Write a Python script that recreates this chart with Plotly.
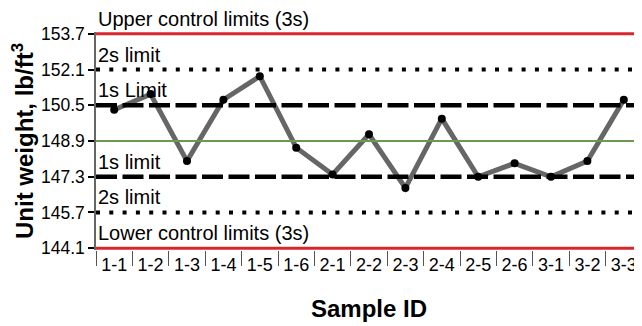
import plotly.graph_objects as go

samples = ["1-1", "1-2", "1-3", "1-4", "1-5", "1-6", "2-1", "2-2", "2-3",
           "2-4", "2-5", "2-6", "3-1", "3-2", "3-3"]
unit_weight = [150.3, 151.0, 148.0, 150.75, 151.8, 148.6, 147.4, 149.2, 146.8,
               149.9, 147.3, 147.9, 147.3, 148.0, 150.75]

mean_value = 148.9
limit_values = [153.7, 152.1, 150.5, 148.9, 147.3, 145.7, 144.1]
tick_labels = ["153.7", "152.1", "150.5", "148.9", "147.3", "145.7", "144.1"]

ucl, lcl = 153.7, 144.1
s2_hi, s2_lo = 152.1, 145.7
s1_hi, s1_lo = 150.5, 147.3

limit_texts = [
    (ucl, "Upper control limits (3s)"),
    (s2_hi, "2s limit"),
    (s1_hi, "1s Limit"),
    (s1_lo, "1s limit"),
    (s2_lo, "2s limit"),
    (lcl, "Lower control limits (3s)"),
]

FONT = "Liberation Sans, Arial, sans-serif"

fig = go.Figure()

def hline(val, color, width, dash):
    # spans the whole plot width on a hidden 0..1 overlay axis
    fig.add_trace(go.Scatter(
        x=[0, 1], y=[val, val], mode="lines",
        line=dict(color=color, width=width, dash=dash),
        hoverinfo="skip", showlegend=False, xaxis="x2"))

red = "#d8262d"
hline(ucl, red, 3, "solid")
hline(lcl, red, 3, "solid")
hline(s2_hi, "black", 4, "4px,9.3px")
hline(s2_lo, "black", 4, "4px,9.3px")
hline(s1_hi, "black", 4.5, "21px,5.5px")
hline(s1_lo, "black", 4.5, "21px,5.5px")
hline(mean_value, "#6b9a4e", 2.2, "solid")

fig.add_trace(go.Scatter(
    x=samples, y=unit_weight, mode="lines+markers",
    line=dict(color="#666666", width=5),
    marker=dict(color="black", size=8),
    showlegend=False, cliponaxis=False))

for val, txt in limit_texts:
    fig.add_annotation(
        x=0, xref="paper", y=val, yref="y", text=txt, showarrow=False,
        xanchor="left", yanchor="bottom", xshift=0, yshift=2,
        font=dict(family=FONT, size=20, color="black"))

# the page body adds an 8px margin, so the figure is sized to fit the window
fig.update_layout(
    width=634, height=318,
    margin=dict(l=88, r=0, t=24, b=75.5),
    plot_bgcolor="white", paper_bgcolor="white",
    xaxis=dict(
        type="category", categoryorder="array", categoryarray=samples,
        range=[-0.5, 14.5], tickson="boundaries", ticks="outside",
        ticklen=15, tickwidth=1.3, tickcolor="#555555",
        showline=False, showgrid=False, zeroline=False, automargin=False,
        tickangle=0,
        tickfont=dict(family=FONT, size=18, color="black"),
        ticklabelstandoff=2,
        title=dict(text="Sample ID", standoff=26,
                   font=dict(family=FONT, size=24, color="black", weight="bold")),
    ),
    xaxis2=dict(range=[0, 1], overlaying="x", visible=False),
    yaxis=dict(
        range=[144.02, 153.78], tickvals=limit_values, ticktext=tick_labels,
        ticks="outside", ticklen=6, tickwidth=1.5, tickcolor="black",
        showline=True, linecolor="#666666", linewidth=1.5,
        showgrid=False, zeroline=False, automargin=False,
        tickfont=dict(family=FONT, size=17.5, color="black"),
        title=dict(text="Unit weight, lb/ft<sup>3</sup>", standoff=6,
                   font=dict(family=FONT, size=24, color="black", weight="bold")),
    ),
)

fig.write_html("out.html")
